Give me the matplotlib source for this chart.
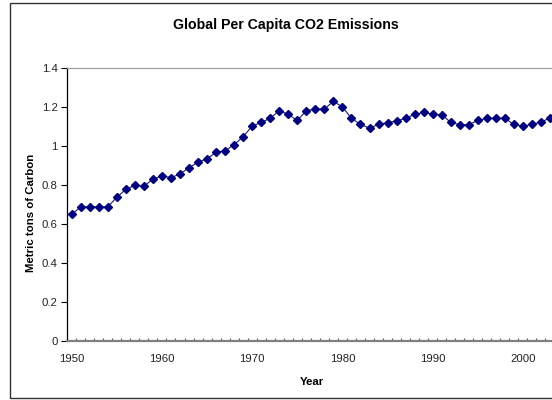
import matplotlib
matplotlib.use("Agg")
import matplotlib.pyplot as plt
from matplotlib.patches import Rectangle
from matplotlib.ticker import FixedLocator, FuncFormatter

plt.rcParams['font.family'] = ['Liberation Sans', 'DejaVu Sans']

years = list(range(1950, 2004))
emissions = [
    0.648, 0.687, 0.687, 0.687, 0.687, 0.736, 0.776, 0.797, 0.793, 0.828,
    0.846, 0.836, 0.855, 0.887, 0.915, 0.933, 0.966, 0.974, 1.005, 1.046,
    1.100, 1.119, 1.140, 1.179, 1.160, 1.129, 1.179, 1.187, 1.187, 1.227,
    1.198, 1.140, 1.109, 1.089, 1.109, 1.117, 1.127, 1.140, 1.160, 1.170,
    1.160, 1.158, 1.119, 1.107, 1.107, 1.129, 1.140, 1.140, 1.140, 1.109,
    1.100, 1.109, 1.121, 1.141,
]
x_labels = [1950, 1960, 1970, 1980, 1990, 2000]
y_ticks = [0, 0.2, 0.4, 0.6, 0.8, 1.0, 1.2, 1.4]

W, H = 552, 400
fig = plt.figure(figsize=(W / 100, H / 100), dpi=100)

# outer chart frame (extends past the right edge)
fig.patches.append(Rectangle((9.5 / W, 2 / H), 1.2, (H - 5) / H,
                             transform=fig.transFigure, fill=False,
                             edgecolor='#333333', linewidth=1.0))

left_px, right_px = 67.2, 554.5
top_px, bottom_px = 67.5, 341.0
ax = fig.add_axes([left_px / W, (H - bottom_px) / H,
                   (right_px - left_px) / W, (bottom_px - top_px) / H])

ax.plot(years, emissions, color='#1a1a70', linewidth=0.8,
        marker='D', markersize=3.8, markerfacecolor='#000080',
        markeredgecolor='#000080', clip_on=False, zorder=3)

ax.set_xlim(1949.5, 2003.5)
ax.set_ylim(0, 1.4)

ax.set_yticks(y_ticks)
ax.yaxis.set_major_formatter(FuncFormatter(lambda v, p: f"{v:g}"))
ax.tick_params(axis='y', direction='out', length=4, width=0.8,
               color='#000000', labelsize=8.2, labelcolor='#222222', pad=3)

ax.set_xticks(x_labels)
ax.set_xticklabels([str(v) for v in x_labels])
ax.xaxis.set_minor_locator(FixedLocator([y - 0.5 for y in years] + [2003.5]))
ax.tick_params(axis='x', which='major', length=0, labelsize=8.2,
               labelcolor='#222222', pad=9)
ax.tick_params(axis='x', which='minor', direction='in', length=2.2,
               width=0.8, color='#555555')

ax.spines['left'].set_color('#000000')
ax.spines['left'].set_linewidth(0.9)
ax.spines['bottom'].set_color('#808080')
ax.spines['bottom'].set_linewidth(1.6)
ax.spines['top'].set_color('#a0a0a0')
ax.spines['top'].set_linewidth(0.9)
ax.spines['right'].set_color('#a0a0a0')

fig.text(286 / W, 1 - 25 / H, 'Global Per Capita CO2 Emissions',
         ha='center', va='center', fontsize=10.2, fontweight='bold')
fig.text(31 / W, 1 - 213 / H, 'Metric tons of Carbon', rotation=90,
         ha='center', va='center', fontsize=8.2, fontweight='bold')
fig.text(312 / W, 1 - 382 / H, 'Year', ha='center', va='center',
         fontsize=8.2, fontweight='bold')

fig.savefig('out.png', dpi=100)
